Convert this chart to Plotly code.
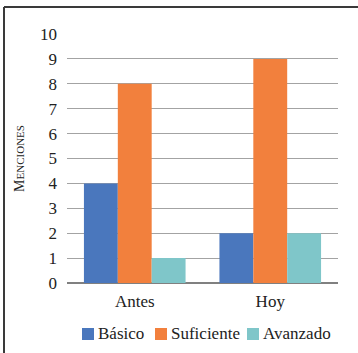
import plotly.graph_objects as go

categories = ["Antes", "Hoy"]
basico = [4, 2]
suficiente = [8, 9]
avanzado = [1, 2]
series_names = ["Básico", "Suficiente", "Avanzado"]
colors = ["#4A77BD", "#F2803D", "#7FC6C9"]
y_ticks = list(range(0, 11))

W, H = 358, 353
L, R, T, B = 67, 20, 34, 70
pw, ph = W - L - R, H - T - B


def px_to_paper_x(px):
    return (px - L) / pw


def px_to_paper_y(py):
    return (H - B - py) / ph


fig = go.Figure()
for name, vals, col in zip(series_names, [basico, suficiente, avanzado], colors):
    fig.add_trace(go.Bar(x=categories, y=vals, name=name, marker_color=col,
                         marker_line_width=0, showlegend=False))

font_family = "Liberation Serif"
fig.update_layout(
    width=W, height=H,
    margin=dict(l=L, r=R, t=T, b=B, pad=0, autoexpand=False),
    paper_bgcolor="white", plot_bgcolor="white",
    barmode="group", bargap=0.25, bargroupgap=0,
    font=dict(family=font_family, color="#222222", size=17),
    showlegend=False,
    xaxis=dict(showgrid=False, showline=False, ticks="", ticklabelstandoff=6,
               tickfont=dict(size=17, family=font_family, color="#222222")),
    yaxis=dict(range=[0, 10], tickvals=y_ticks, showgrid=True,
               gridcolor="#A3A3A3", gridwidth=1.3,
               zeroline=True, zerolinecolor="#808080", zerolinewidth=1.5,
               showline=False, ticks="", ticklabelstandoff=9,
               tickfont=dict(size=17, family=font_family, color="#222222"),
               title=dict(text="M<span style='font-size:11px'>ENCIONES</span>",
                          font=dict(size=14, family=font_family, color="#222222"),
                          standoff=12)),
)

# legend row: colour swatches followed by series names
swatch_x = [82, 155, 247]
for name, col, sx in zip(series_names, colors, swatch_x):
    fig.add_shape(type="rect", xref="paper", yref="paper",
                  x0=px_to_paper_x(sx), x1=px_to_paper_x(sx + 12),
                  y0=px_to_paper_y(340), y1=px_to_paper_y(328),
                  fillcolor=col, line_width=0)
    fig.add_annotation(xref="paper", yref="paper", x=px_to_paper_x(sx + 14),
                       y=px_to_paper_y(333.5), text=name, showarrow=False,
                       xanchor="left", yanchor="middle",
                       font=dict(size=17, family=font_family, color="#222222"))

# frame around the figure (left and top edges)
x0, x1 = px_to_paper_x(4), px_to_paper_x(W + 2)
y0, y1 = px_to_paper_y(H + 2), px_to_paper_y(7)
fig.add_shape(type="line", xref="paper", yref="paper", x0=x0, x1=x0, y0=y0, y1=y1,
              line=dict(color="#3A3A3A", width=2))
fig.add_shape(type="line", xref="paper", yref="paper", x0=x0, x1=x1, y0=y1, y1=y1,
              line=dict(color="#3A3A3A", width=2))

fig.write_html("out.html")
